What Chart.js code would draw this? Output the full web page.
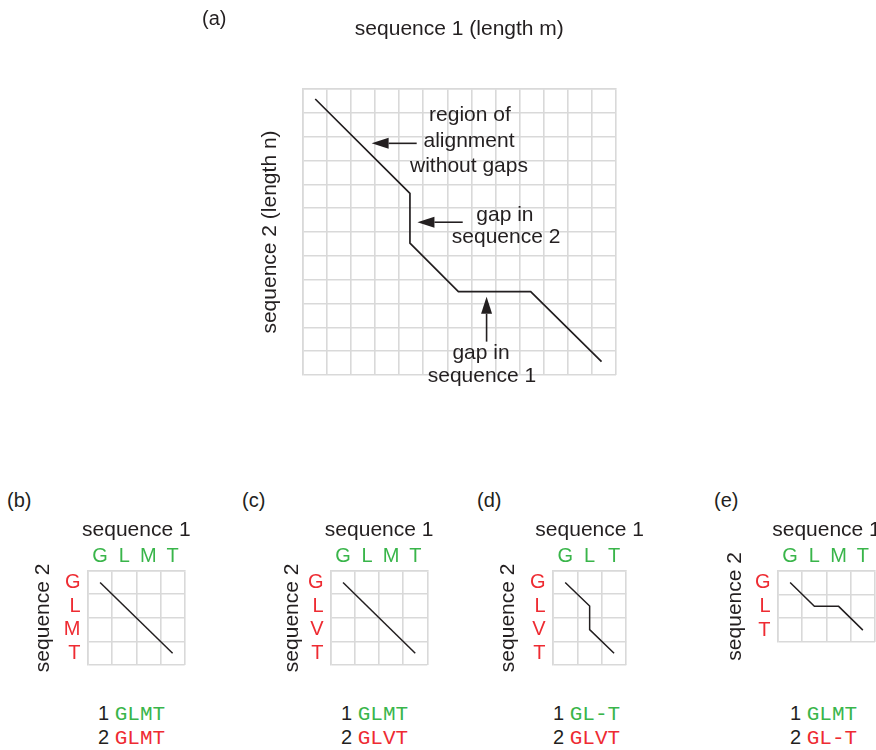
<!DOCTYPE html>
<html>
<head>
<meta charset="utf-8">
<script src="https://cdn.jsdelivr.net/npm/chart.js@4.4.0/dist/chart.umd.min.js"></script>
<style>
  html, body { margin:0; padding:0; background:#fff; overflow:hidden; }
  body { width:876px; height:750px; position:relative; font-family:'Liberation Sans', Arial, sans-serif; color:#231f20; }
  canvas { position:absolute; }
  .lbl { position:absolute; font-size:20px; line-height:24px; white-space:nowrap; }
  .mono { font-family:'Liberation Mono', monospace; font-size:21px; }
</style>
</head>
<body>
<canvas id="main" width="440" height="400" style="left:200px;top:0px"></canvas>
<script>
// (a) big dot-plot grid, path in grid units
const mainCols = 13;
const mainRows = 12;
const pathX = [0.52, 4.45, 4.45, 6.46, 9.46, 12.4];
const pathY = [0.42, 4.38, 6.47, 8.5, 8.5, 11.44];

// (b)-(e) sequences and alignment paths
const seq1B = ['G', 'L', 'M', 'T'], seq2B = ['G', 'L', 'M', 'T'];
const pathXB = ['G', 'T'], pathYB = ['G', 'T'];
const seq1C = ['G', 'L', 'M', 'T'], seq2C = ['G', 'L', 'V', 'T'];
const pathXC = ['G', 'T'], pathYC = ['G', 'T'];
const seq1D = ['G', 'L', 'T'], seq2D = ['G', 'L', 'V', 'T'];
const pathXD = ['G', 'L', 'L', 'T'], pathYD = ['G', 'L', 'V', 'T'];
const seq1E = ['G', 'L', 'M', 'T'], seq2E = ['G', 'L', 'T'];
const pathXE = ['G', 'L', 'M', 'T'], pathYE = ['G', 'L', 'L', 'T'];

const alignB = ['GLMT', 'GLMT'];
const alignC = ['GLMT', 'GLVT'];
const alignD = ['GL-T', 'GLVT'];
const alignE = ['GLMT', 'GL-T'];

const ink = '#231f20';
const green = '#39b54a';
const red = '#ee2b32';
const gridColor = '#d9d9d9';
const sans = "'Liberation Sans', Arial, sans-serif";

Chart.defaults.font.family = sans;
Chart.defaults.color = ink;

// annotation text + arrows for (a), in grid units
const notes = [
  {text: 'region of', x: 6.94, y: 1.09},
  {text: 'alignment', x: 6.9, y: 2.21},
  {text: 'without gaps', x: 6.9, y: 3.23},
  {text: 'gap in', x: 8.39, y: 5.29},
  {text: 'sequence 2', x: 8.44, y: 6.21},
  {text: 'gap in', x: 7.4, y: 11.09},
  {text: 'sequence 1', x: 7.44, y: 12.07}
];
const arrows = [
  {x1: 4.73, y1: 2.28, x2: 2.86, y2: 2.28},
  {x1: 6.64, y1: 5.59, x2: 4.76, y2: 5.59},
  {x1: 7.63, y1: 10.6, x2: 7.63, y2: 8.72}
];

function drawArrow(ctx, x1, y1, x2, y2) {
  const ang = Math.atan2(y2 - y1, x2 - x1);
  const len = 17, half = 5.5;
  const bx = x2 - Math.cos(ang) * len, by = y2 - Math.sin(ang) * len;
  ctx.beginPath();
  ctx.moveTo(x1, y1);
  ctx.lineTo(bx, by);
  ctx.stroke();
  ctx.beginPath();
  ctx.moveTo(x2, y2);
  ctx.lineTo(bx - Math.sin(ang) * half, by + Math.cos(ang) * half);
  ctx.lineTo(bx + Math.sin(ang) * half, by - Math.cos(ang) * half);
  ctx.closePath();
  ctx.fill();
}

const notesPlugin = {
  id: 'notes',
  afterDatasetsDraw(chart) {
    const {ctx, scales: {x, y}} = chart;
    ctx.save();
    ctx.fillStyle = ink;
    ctx.strokeStyle = ink;
    ctx.lineWidth = 1.6;
    ctx.font = '21px ' + sans;
    ctx.textAlign = 'center';
    ctx.textBaseline = 'middle';
    notes.forEach(n => ctx.fillText(n.text, x.getPixelForValue(n.x), y.getPixelForValue(n.y)));
    arrows.forEach(a => drawArrow(ctx, x.getPixelForValue(a.x1), y.getPixelForValue(a.y1),
      x.getPixelForValue(a.x2), y.getPixelForValue(a.y2)));
    ctx.restore();
  }
};

// chart.js squeezes axis titles to the axis width, so the small panels draw theirs here
const topTitle = {
  id: 'topTitle',
  afterDraw(chart, args, opts) {
    const {ctx, scales: {x}} = chart;
    ctx.save();
    ctx.fillStyle = ink;
    ctx.font = '21px ' + sans;
    ctx.textBaseline = 'middle';
    ctx.textAlign = 'center';
    ctx.fillText(opts.text, (x.left + x.right) / 2, x.top + 20);
    ctx.restore();
  }
};

// force axis box sizes so the grids land where they should
const fixSize = (w, h) => s => {
  if (w != null) s.width = w;
  if (h != null) s.height = h;
  s.paddingLeft = s.paddingRight = s.paddingTop = s.paddingBottom = 0;
};

new Chart(document.getElementById('main'), {
  type: 'scatter',
  data: {
    datasets: [{
      data: pathX.map((x, i) => ({x: x, y: pathY[i]})),
      showLine: true,
      borderColor: ink,
      borderWidth: 1.7,
      pointRadius: 0
    }]
  },
  options: {
    responsive: false,
    animation: false,
    layout: {padding: {left: 0, top: 0, right: 24, bottom: 25}},
    plugins: {legend: {display: false}, tooltip: {enabled: false}},
    scales: {
      x: {
        type: 'linear', position: 'top', min: 0, max: mainCols,
        ticks: {display: false, stepSize: 1},
        grid: {color: gridColor, lineWidth: 1.6, drawTicks: false},
        border: {color: gridColor, width: 1.6},
        title: {display: true, text: 'sequence 1 (length m)', color: ink, font: {size: 21}, padding: {top: 16.4, bottom: 0}},
        afterFit: fixSize(null, 89)
      },
      y: {
        type: 'linear', position: 'left', reverse: true, min: 0, max: mainRows,
        ticks: {display: false, stepSize: 1},
        grid: {color: gridColor, lineWidth: 1.6, drawTicks: false},
        border: {color: gridColor, width: 1.6},
        title: {display: true, text: 'sequence 2 (length n)', color: ink, font: {size: 21}, padding: {top: 57.4, bottom: 0}},
        afterFit: fixSize(102.7, null)
      }
    }
  },
  plugins: [notesPlugin]
});

const panels = [
  {seq1: seq1B, seq2: seq2B, px: pathXB, py: pathYB, align: alignB, box: [88.3, 570.7, 185, 665], seq2X: 43.3, numX: 98},
  {seq1: seq1C, seq2: seq2C, px: pathXC, py: pathYC, align: alignC, box: [330.7, 570.7, 427, 665], seq2X: 291.7, numX: 341},
  {seq1: seq1D, seq2: seq2D, px: pathXD, py: pathYD, align: alignD, box: [552.7, 570.7, 626, 665], seq2X: 508.3, numX: 553},
  {seq1: seq1E, seq2: seq2E, px: pathXE, py: pathYE, align: alignE, box: [778, 570.7, 875, 642], seq2X: 735, numX: 790}
];

const panelLabels = [
  {text: '(a)', x: 202, y: 18},
  {text: '(b)', x: 7, y: 500},
  {text: '(c)', x: 242, y: 500},
  {text: '(d)', x: 477, y: 500},
  {text: '(e)', x: 714, y: 500}
];

panelLabels.forEach(p => {
  const d = document.createElement('div');
  d.className = 'lbl';
  d.style.left = p.x + 'px';
  d.style.top = (p.y - 12) + 'px';
  d.textContent = p.text;
  document.body.appendChild(d);
});

const top0 = 510;
panels.forEach(p => {
  const [gl, gt, gr, gb] = p.box;
  const left = gl - 60;
  const cv = document.createElement('canvas');
  cv.width = Math.round(gr - left + 25);
  cv.height = Math.round(gb - top0 + 30);
  cv.style.left = left + 'px';
  cv.style.top = top0 + 'px';
  document.body.appendChild(cv);

  new Chart(cv, {
    type: 'line',
    data: {
      datasets: [{
        data: p.px.map((x, i) => ({x: x, y: p.py[i]})),
        borderColor: ink,
        borderWidth: 1.5,
        pointRadius: 0,
        fill: false,
        tension: 0
      }]
    },
    options: {
      responsive: false,
      animation: false,
      layout: {padding: {left: 0, top: 0, right: cv.width - (gr - left), bottom: cv.height - (gb - top0)}},
      plugins: {legend: {display: false}, tooltip: {enabled: false}, topTitle: {text: 'sequence 1'}},
      scales: {
        x: {
          type: 'category', position: 'top', labels: p.seq1, offset: true,
          ticks: {color: green, font: {size: 20}, padding: 2, autoSkip: false, maxRotation: 0},
          grid: {offset: true, color: gridColor, lineWidth: 1.6, drawTicks: false},
          border: {color: gridColor, width: 1.6},
          afterFit: fixSize(null, gt - top0)
        },
        y: {
          type: 'category', position: 'left', labels: p.seq2, offset: true,
          ticks: {color: red, font: {size: 20}, padding: 7.5, autoSkip: false},
          grid: {offset: true, color: gridColor, lineWidth: 1.6, drawTicks: false},
          border: {color: gridColor, width: 1.6},
          title: {display: true, text: 'sequence 2', color: ink, font: {size: 21}, padding: {top: p.seq2X - left - 12.6, bottom: 0}},
          afterFit: fixSize(gl - left, null)
        }
      }
    },
    plugins: [topTitle]
  });

  // aligned sequences underneath
  const rowsY = [713.3, 736.7];
  p.align.forEach((s, i) => {
    const d = document.createElement('div');
    d.className = 'lbl';
    d.style.left = p.numX + 'px';
    d.style.top = (rowsY[i] - 12) + 'px';
    d.innerHTML = (i + 1) + ' <span class="mono" style="color:' + (i === 0 ? green : red) + '">' + s + '</span>';
    document.body.appendChild(d);
  });
});
</script>
</body>
</html>
